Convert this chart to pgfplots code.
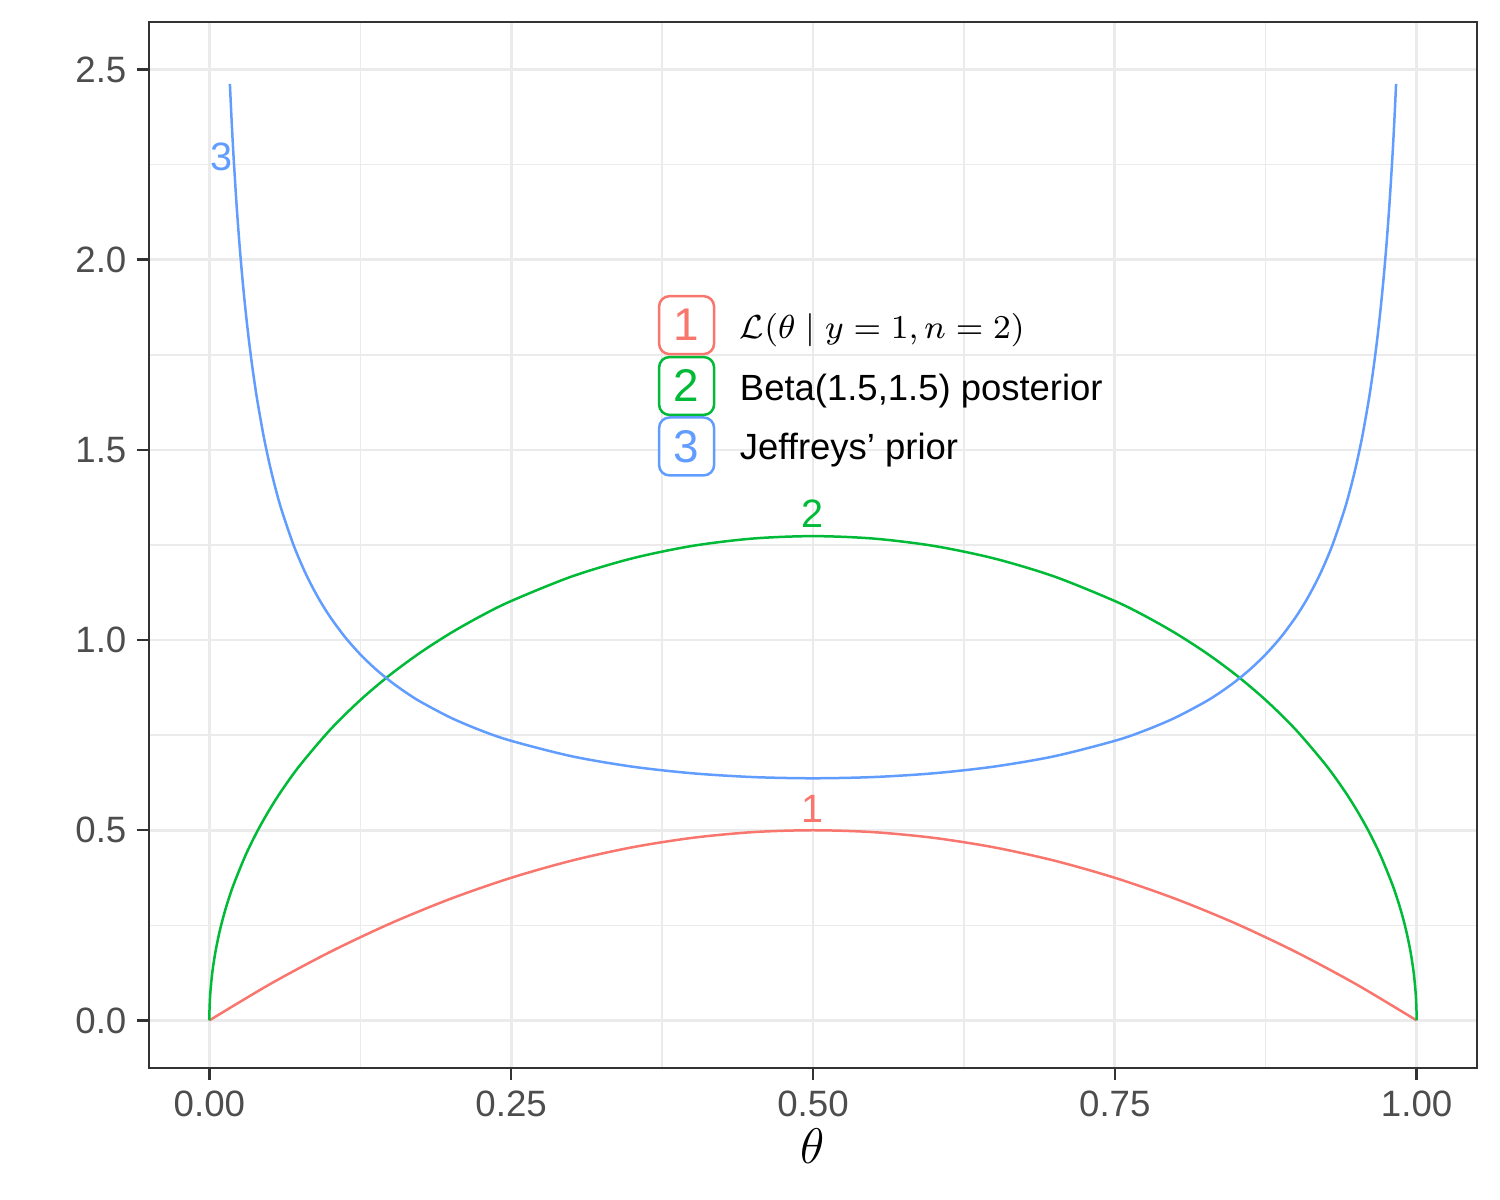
\documentclass[border=0pt]{standalone}
\usepackage[no-math]{fontspec}
\setmainfont{Liberation Sans}
\usepackage{pgfplots}
\pgfplotsset{compat=1.18}
\definecolor{c1}{HTML}{F8766D}
\definecolor{c2}{HTML}{00BA38}
\definecolor{c3}{HTML}{619CFF}
\definecolor{gridc}{HTML}{EBEBEB}
\definecolor{tickc}{HTML}{4D4D4D}
\definecolor{axc}{HTML}{333333}
\begin{document}
\begin{tikzpicture}
\useasboundingbox (-35.76pt,-31.68pt) rectangle (324.24pt,256.32pt);
\begin{axis}[
  scale only axis, width=318.72pt, height=251.04pt,
  xmin=-0.05, xmax=1.05, ymin=-0.125, ymax=2.625,
  xtick={0,0.25,0.5,0.75,1}, xticklabels={0.00,0.25,0.50,0.75,1.00},
  ytick={0,0.5,1,1.5,2,2.5}, yticklabels={0.0,0.5,1.0,1.5,2.0,2.5},
  minor xtick={0.125,0.375,0.625,0.875},
  minor ytick={0.25,0.75,1.25,1.75,2.25},
  grid=both,
  major grid style={color=gridc, line width=0.65pt},
  minor grid style={color=gridc, line width=0.35pt},
  minor tick length=0pt,
  major tick length=2.9pt, tick align=outside,
  xtick pos=lower, ytick pos=left,
  tick style={color=axc, line width=0.6pt},
  axis line style={color=axc, line width=0.65pt},
  ticklabel style={font=\fontsize{8.8}{10}\selectfont, text=tickc},
  yticklabel style={xshift=1pt},
  xticklabel style={yshift=1pt},
  xlabel={$\theta$},
  xlabel style={font=\fontsize{12}{14}\selectfont, at={(axis description cs:0.5,0)}, anchor=center, yshift=-18.8pt},
]
\addplot[c1, line width=0.6pt, smooth, tension=0.5] coordinates {(0,0)(0.05,0.095)(0.1,0.18)(0.15,0.255)(0.2,0.32)(0.25,0.375)(0.3,0.42)(0.35,0.455)(0.4,0.48)(0.45,0.495)(0.5,0.5)(0.55,0.495)(0.6,0.48)(0.65,0.455)(0.7,0.42)(0.75,0.375)(0.8,0.32)(0.85,0.255)(0.9,0.18)(0.95,0.095)(1,0)};
\addplot[c2, line width=0.6pt, smooth, tension=0.5] coordinates {(0,0)(0.0001,0.02546)(0.0005,0.05693)(0.001,0.08049)(0.002,0.11377)(0.003,0.13927)(0.005,0.17962)(0.0075,0.21970)(0.01,0.25337)(0.0125,0.28292)(0.015,0.30953)(0.02,0.35651)(0.03,0.43440)(0.04,0.49901)(0.05,0.55499)(0.06,0.60476)(0.075,0.67072)(0.1,0.76394)(0.125,0.84218)(0.15,0.90929)(0.175,0.96758)(0.2,1.01859)(0.225,1.06336)(0.25,1.10266)(0.3,1.16694)(0.35,1.21459)(0.4,1.24751)(0.45,1.26686)(0.5,1.27324)(0.55,1.26686)(0.6,1.24751)(0.65,1.21459)(0.7,1.16694)(0.75,1.10266)(0.775,1.06336)(0.8,1.01859)(0.825,0.96758)(0.85,0.90929)(0.875,0.84218)(0.9,0.76394)(0.925,0.67072)(0.94,0.60476)(0.95,0.55499)(0.96,0.49901)(0.97,0.43440)(0.98,0.35651)(0.985,0.30953)(0.9875,0.28292)(0.99,0.25337)(0.9925,0.21970)(0.995,0.17962)(0.997,0.13927)(0.998,0.11377)(0.999,0.08049)(0.9995,0.05693)(0.9999,0.02546)(1,0)};
\addplot[c3, line width=0.6pt, smooth, tension=0.5] coordinates {(0.017,2.46236)(0.0185,2.36221)(0.02,2.27364)(0.0225,2.14634)(0.025,2.03881)(0.0275,1.94644)(0.03,1.86596)(0.0325,1.79507)(0.035,1.73202)(0.0375,1.67545)(0.04,1.62437)(0.045,1.53547)(0.05,1.46051)(0.055,1.39621)(0.06,1.34032)(0.07,1.24755)(0.08,1.17331)(0.09,1.11227)(0.1,1.06103)(0.1125,1.00737)(0.125,0.96249)(0.1375,0.92431)(0.15,0.89145)(0.1625,0.86284)(0.175,0.83773)(0.2,0.79577)(0.225,0.76227)(0.25,0.73511)(0.3,0.69460)(0.35,0.66736)(0.4,0.64975)(0.45,0.63983)(0.5,0.63662)(0.55,0.63983)(0.6,0.64975)(0.65,0.66736)(0.7,0.69460)(0.75,0.73511)(0.775,0.76227)(0.8,0.79577)(0.825,0.83773)(0.8375,0.86284)(0.85,0.89145)(0.8625,0.92431)(0.875,0.96249)(0.8875,1.00737)(0.9,1.06103)(0.91,1.11227)(0.92,1.17331)(0.93,1.24755)(0.94,1.34032)(0.945,1.39621)(0.95,1.46051)(0.955,1.53547)(0.96,1.62437)(0.9625,1.67545)(0.965,1.73202)(0.9675,1.79507)(0.97,1.86596)(0.9725,1.94644)(0.975,2.03881)(0.9775,2.14634)(0.98,2.27364)(0.9815,2.36221)(0.983,2.46236)};
% direct labels
\node[text=c1, font=\fontsize{9.5}{11}\selectfont] at (axis cs:0.5,0.555) {1};
\node[text=c2, font=\fontsize{9.5}{11}\selectfont] at (axis cs:0.5,1.333) {2};
\node[text=c3, font=\fontsize{9.5}{11}\selectfont] at (axis cs:0.0099,2.271) {3};
% legend
\tikzset{keybox/.style={draw=#1, text=#1, fill=white, rounded corners=2.5pt, line width=0.6pt, minimum width=13.2pt, minimum height=13.9pt, inner sep=0pt, font=\fontsize{11}{13}\selectfont}}
\node[keybox=c1] at (axis cs:0.3953,1.828) {1};
\node[keybox=c2] at (axis cs:0.3953,1.668) {2};
\node[keybox=c3] at (axis cs:0.3953,1.509) {3};
\node[anchor=west, inner sep=0pt, font=\fontsize{8.4}{10}\selectfont] at (axis cs:0.4388,1.8137) {$\mathcal{L}(\theta \mid y=1, n=2)$};
\node[anchor=west, inner sep=0pt, font=\fontsize{8.75}{10}\selectfont] at (axis cs:0.4388,1.6559) {Beta(1.5,1.5) posterior};
\node[anchor=west, inner sep=0pt, font=\fontsize{8.75}{10}\selectfont] at (axis cs:0.4388,1.4982) {Jeffreys’ prior};
\end{axis}
\end{tikzpicture}
\end{document}
